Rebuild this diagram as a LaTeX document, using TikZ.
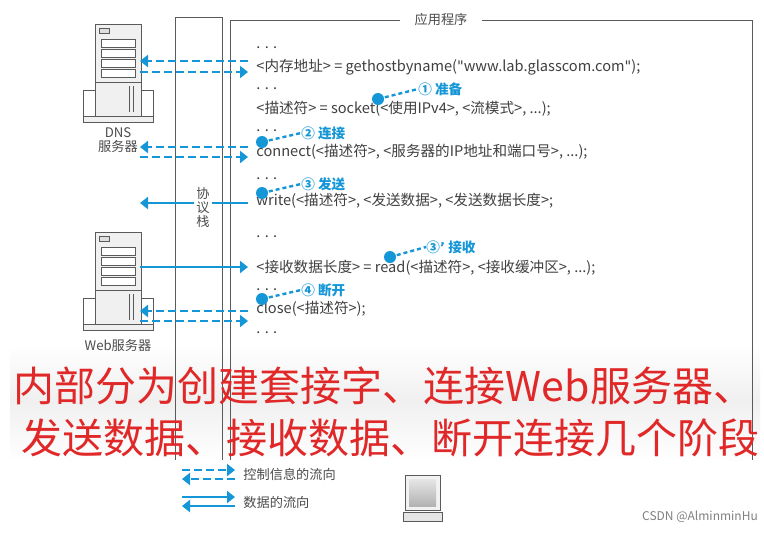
\documentclass[tikz,border=0pt]{standalone}
\usepackage{fontspec}
\setmainfont{Noto Sans CJK SC}
\newfontfamily\latinfont{DejaVu Sans}
\usetikzlibrary{arrows.meta,positioning}
\definecolor{flow}{RGB}{20,150,215}
\definecolor{frame}{RGB}{90,90,90}
\definecolor{alert}{RGB}{225,40,40}
\newcommand{\serverbox}[2]{%
  \begin{scope}[shift={(#1,#2)}]
    \draw[frame, fill=gray!12] (0,0) rectangle (46,92);
    \draw[frame, fill=gray!25] (4,4) rectangle (14,9);
    \foreach \k in {15,25,35,45}
      \draw[frame, fill=white] (6,\k) rectangle (40,\k+8);
    \draw[frame] (0,58) -- (46,58);
    \draw[frame] (34,62) -- (34,88) (38,62) -- (38,88);
    \draw[frame, fill=gray!12] (-12,92) rectangle (58,98);
    \draw[frame] (0,92) -- (0,66) -- (-12,66) -- (-12,92);
    \draw[frame] (46,92) -- (46,66) -- (58,66) -- (58,92);
  \end{scope}}
\begin{document}
\begin{tikzpicture}[x=0.5pt, y=-0.5pt,
    code/.style={anchor=west, font=\fontsize{7.3}{8}\selectfont, text=black!75, inner sep=0pt},
    note/.style={anchor=west, font=\fontsize{6.8}{7}\selectfont\bfseries, text=flow, inner sep=0pt},
    ctrl/.style={flow, line width=1.3pt, dashed, dash pattern=on 4pt off 2pt, -{Triangle[length=4pt,width=6pt]}},
    data/.style={flow, line width=1.3pt, -{Triangle[length=4pt,width=6pt]}},
    lead/.style={flow, line width=1.2pt, dash pattern=on 2pt off 1.5pt},
    label/.style={font=\fontsize{6.6}{7}\selectfont, text=black!70, inner sep=0pt}
]
\useasboundingbox[fill=white] (0,0) rectangle (764,532);
% frames
\shade[top color=white, bottom color=gray!12] (10,345) rectangle (760,400);
\shade[top color=gray!12, bottom color=white] (10,400) rectangle (760,462);
\draw[frame] (175,17) -- (175,460) (222,17) -- (222,460) (175,17) -- (222,17);
\draw[frame] (230,460) -- (230,20) -- (400,20);
\draw[frame] (482,20) -- (752,20) -- (752,460);
\node[label] (app) at (441,19) {应用程序};
\node[label, align=center] (stack) at (203,207) {协\\议\\栈};
% servers
\serverbox{95}{24}
\serverbox{95}{232}
\node[label, align=center] (dns) at (118,140) {DNS\\服务器};
\node[label] (web) at (118,345) {Web服务器};
% code lines
\node[code] (c0) at (256,48) {. . .};
\node[code] (c1) at (256,67) {<内存地址> = gethostbyname({\latinfont "}www.lab.glasscom.com{\latinfont "});};
\node[code] (c2) at (256,89) {. . .};
\node[code] (c3) at (256,109) {<描述符> = socket(<使用IPv4>, <流模式>, ...);};
\node[code] (c4) at (256,131) {. . .};
\node[code] (c5) at (256,152) {connect(<描述符>, <服务器的IP地址和端口号>, ...);};
\node[code] (c6) at (256,179) {. . .};
\node[code] (c7) at (256,201) {write(<描述符>, <发送数据>, <发送数据长度>;};
\node[code] (c8) at (256,237) {. . .};
\node[code] (c9) at (256,268) {<接收数据长度> = read(<描述符>, <接收缓冲区>, ...);};
\node[code] (c10) at (256,290) {. . .};
\node[code] (c11) at (256,309) {close(<描述符>);};
\node[code] (c12) at (256,333) {. . .};
% flows
\draw[ctrl] (248,61) -- (140,61);
\draw[ctrl] (140,72) -- (248,72);
\draw[ctrl] (248,147) -- (140,147);
\draw[ctrl] (140,157) -- (248,157);
\draw[data] (248,203) -- (212,203) (194,203) -- (140,203);
\draw[data] (140,267) -- (248,267);
\draw[ctrl] (248,311) -- (140,311);
\draw[ctrl] (140,321) -- (248,321);
% notes
\node[note] (n1) at (418,89) {① 准备};
\node[note] (n2) at (301,133) {② 连接};
\node[note] (n3) at (301,184) {③ 发送};
\node[note] (n3b) at (426,247) {③{\latinfont\bfseries ’} 接收};
\node[note] (n4) at (301,290) {④ 断开};
\foreach \n/\x/\y in {n1/378/99, n2/262/142, n3/262/193, n3b/390/257, n4/262/299} {
  \fill[flow] (\x,\y) circle (3pt);
  \draw[lead] (\x,\y) -- (\n.west);
}
% red caption
\node[font=\fontsize{20.5}{22}\selectfont, text=alert, inner sep=0pt] (cap1) at (384,386) {内部分为创建套接字、连接Web服务器、};
\node[font=\fontsize{20.5}{22}\selectfont, text=alert, inner sep=0pt] (cap2) at (390,438) {发送数据、接收数据、断开连接几个阶段};
% legend
\draw[ctrl] (182,470) -- (235,470);
\draw[ctrl] (235,479) -- (182,479);
\draw[data] (182,497) -- (235,497);
\draw[data] (235,506) -- (182,506);
\node[label, anchor=west] (lg1) at (243,474) {控制信息的流向};
\node[label, anchor=west] (lg2) at (243,502) {数据的流向};
% client pc
\draw[frame, fill=gray!10] (405,475) rectangle (440,510);
\shade[top color=gray!20, bottom color=gray!60] (409,479) rectangle (436,506);
\draw[frame, fill=gray!20] (403,512) rectangle (442,521);
\node[label, text=gray, font=\fontsize{6}{7}\selectfont] (csdn) at (700,517) {CSDN @AlminminHu};
\end{tikzpicture}
\end{document}
